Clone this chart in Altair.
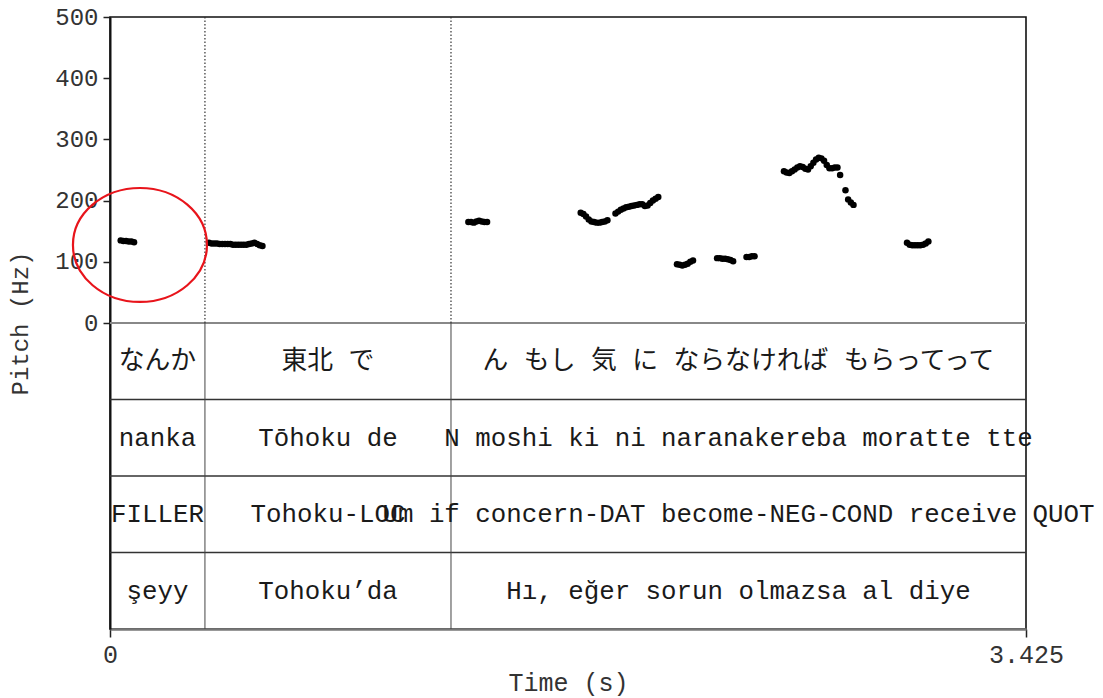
import altair as alt
import pandas as pd

# ---------------- data ----------------
# pitch track (time in s, pitch in Hz), one list pair per voiced stretch
seg1_t = [0.04, 0.05, 0.06, 0.07, 0.08, 0.09]
seg1_f = [135, 134, 134, 133, 133, 132]

seg2_t = [0.37, 0.38, 0.39, 0.40, 0.41, 0.42, 0.43, 0.44, 0.45, 0.46, 0.47,
          0.48, 0.49, 0.50, 0.51, 0.52, 0.53, 0.54, 0.55, 0.56, 0.57]
seg2_f = [131, 130, 130, 130, 129, 129, 129, 129, 129, 128, 128,
          128, 128, 128, 128, 129, 130, 131, 129, 127, 126]

seg3_t = [1.34, 1.35, 1.36, 1.37, 1.38, 1.39, 1.40, 1.41]
seg3_f = [165, 165, 164, 166, 167, 166, 165, 165]

seg4_t = [1.76, 1.77, 1.78, 1.79, 1.80, 1.81, 1.82, 1.83, 1.84, 1.85, 1.86]
seg4_f = [180, 178, 174, 169, 166, 165, 164, 164, 165, 166, 168]

seg5_t = [1.89, 1.90, 1.91, 1.92, 1.93, 1.94, 1.95, 1.96, 1.97, 1.98, 1.99,
          2.00, 2.01, 2.02, 2.03, 2.04, 2.05]
seg5_f = [179, 182, 185, 187, 189, 190, 191, 192, 193, 194, 194,
          191, 192, 196, 200, 203, 206]

seg6_t = [2.12, 2.13, 2.14, 2.15, 2.16, 2.17, 2.18]
seg6_f = [96, 95, 94, 95, 97, 100, 102]

seg7_t = [2.27, 2.28, 2.29, 2.30, 2.31, 2.32, 2.33]
seg7_f = [106, 106, 105, 105, 104, 103, 101]

seg8_t = [2.38, 2.39, 2.40, 2.41]
seg8_f = [108, 108, 109, 109]

seg9_t = [2.52, 2.53, 2.54, 2.55, 2.56, 2.57, 2.58, 2.59, 2.60, 2.61, 2.62,
          2.63, 2.64, 2.65, 2.66, 2.67, 2.68, 2.69, 2.70, 2.71, 2.72, 2.73,
          2.75, 2.76, 2.77, 2.78]
seg9_f = [248, 246, 245, 248, 251, 254, 256, 255, 252, 251, 256,
          262, 267, 270, 269, 265, 258, 253, 253, 254, 254, 242,
          217, 202, 197, 193]

seg10_t = [2.98, 2.99, 3.00, 3.01, 3.02, 3.03, 3.04, 3.05, 3.06]
seg10_f = [131, 128, 127, 127, 127, 127, 128, 130, 133]

# interval boundaries (s)
boundaries = [0.0, 0.355, 1.275, 3.425]
t_end = 3.425

# tier texts
tier_jp = ["なんか", "東北 で", "ん もし 気 に ならなければ もらってって"]
tier_romaji = ["nanka", "Tōhoku de", "N moshi ki ni naranakereba moratte tte"]
tier_gloss = ["FILLER", "Tohoku-LOC", "Um if concern-DAT become-NEG-COND receive QUOT"]
tier_turkish = ["şeyy", "Tohoku’da", "Hı, eğer sorun olmazsa al diye"]

# axis ticks
y_ticks = [0, 100, 200, 300, 400, 500]
x_ticks = [0, 3.425]

# highlighted region (time, Hz)
highlight_t = [0.112]
highlight_f = [127.5]

# ---------------- layout constants ----------------
Y_MIN, Y_MAX = -500, 500
tier_h = 125  # each annotation tier spans this many y-units below 0
FONT = "Liberation Mono, Courier New, Noto Sans CJK JP, monospace"

# ---------------- tables ----------------
ts = seg1_t + seg2_t + seg3_t + seg4_t + seg5_t + seg6_t + seg7_t + seg8_t + seg9_t + seg10_t
fs = seg1_f + seg2_f + seg3_f + seg4_f + seg5_f + seg6_f + seg7_f + seg8_f + seg9_f + seg10_f
pitch = pd.DataFrame({"t": ts, "f": fs})

rows = []
for k, tier in enumerate([tier_jp, tier_romaji, tier_gloss, tier_turkish]):
    yc = -tier_h * k - tier_h / 2
    for i, txt in enumerate(tier):
        rows.append({"x": (boundaries[i] + boundaries[i + 1]) / 2, "y": yc, "label": txt})
texts = pd.DataFrame(rows)

inner = boundaries[1:-1]
dotted = pd.DataFrame({"x": inner, "y": [0] * len(inner), "y2": [Y_MAX] * len(inner)})
solid = pd.DataFrame({"x": inner, "y": [Y_MIN] * len(inner), "y2": [0] * len(inner)})
hlines = pd.DataFrame({"y": [-tier_h, -2 * tier_h, -3 * tier_h], "x": 0, "x2": t_end})
zline = pd.DataFrame({"y": [0], "x": [0], "x2": [t_end]})
hl = pd.DataFrame({"t": highlight_t, "f": highlight_f})

xs = alt.Scale(domain=[0, t_end], nice=False, zero=False)
ys = alt.Scale(domain=[Y_MIN, Y_MAX], nice=False)

x_axis = alt.Axis(values=x_ticks, labelExpr="format(datum.value, '.3~f')", title="Time (s)",
                  grid=False, labelFlush=False, tickSize=8, tickColor="#222", tickWidth=1.5,
                  domainColor="#777", domainWidth=2.5,
                  labelFont=FONT, labelFontSize=25, labelColor="#333", labelPadding=5,
                  titleFont=FONT, titleFontSize=25, titleFontWeight="normal",
                  titleColor="#333", titlePadding=3)
y_axis = alt.Axis(values=y_ticks, title="Pitch (Hz)", grid=False,
                  tickSize=7, tickColor="#222", tickWidth=1.5,
                  domainColor="#111", domainWidth=2,
                  labelFont=FONT, labelFontSize=24, labelColor="#333", labelPadding=5,
                  titleFont=FONT, titleFontSize=24, titleFontWeight="normal",
                  titleColor="#333", titlePadding=22)

points = alt.Chart(pitch).mark_circle(size=42, color="black", opacity=1).encode(
    x=alt.X("t:Q", scale=xs, axis=x_axis),
    y=alt.Y("f:Q", scale=ys, axis=y_axis),
)

dot_rules = alt.Chart(dotted).mark_rule(color="#333", strokeWidth=1.2, strokeDash=[1.5, 2]).encode(
    x="x:Q", y="y:Q", y2="y2:Q")
solid_rules = alt.Chart(solid).mark_rule(color="#444", strokeWidth=1).encode(
    x="x:Q", y="y:Q", y2="y2:Q")
tier_rules = alt.Chart(hlines).mark_rule(color="#333", strokeWidth=1.3).encode(
    y="y:Q", x="x:Q", x2="x2:Q")
zero_rule = alt.Chart(zline).mark_rule(color="#888", strokeWidth=2).encode(
    y="y:Q", x="x:Q", x2="x2:Q")

labels = alt.Chart(texts).mark_text(font=FONT, fontSize=25.8, align="center",
                                    baseline="middle", color="#1a1a1a").encode(
    x="x:Q", y="y:Q", text="label:N")

k = 0.5523
ry = 0.85
ell_path = (f"M 1 0 C 1 {k*ry:.4f} {k} {ry} 0 {ry} C {-k} {ry} -1 {k*ry:.4f} -1 0 "
            f"C -1 {-k*ry:.4f} {-k} {-ry} 0 {-ry} C {k} {-ry} 1 {-k*ry:.4f} 1 0 Z")
ellipse = alt.Chart(hl).mark_point(shape=ell_path, size=134 * 134, filled=False,
                                   stroke="#e8141b", strokeWidth=2.2, opacity=1).encode(
    x="t:Q", y="f:Q")

chart = alt.layer(zero_rule, tier_rules, dot_rules, solid_rules, labels, points, ellipse).properties(
    width=916, height=612,
    autosize=alt.AutoSizeParams(type="none"),
    padding={"left": 102, "top": 9, "right": 69, "bottom": 67},
).configure_view(stroke="#111", strokeWidth=1.6)

chart.save("out.html", embed_options={"renderer": "svg", "actions": False})
